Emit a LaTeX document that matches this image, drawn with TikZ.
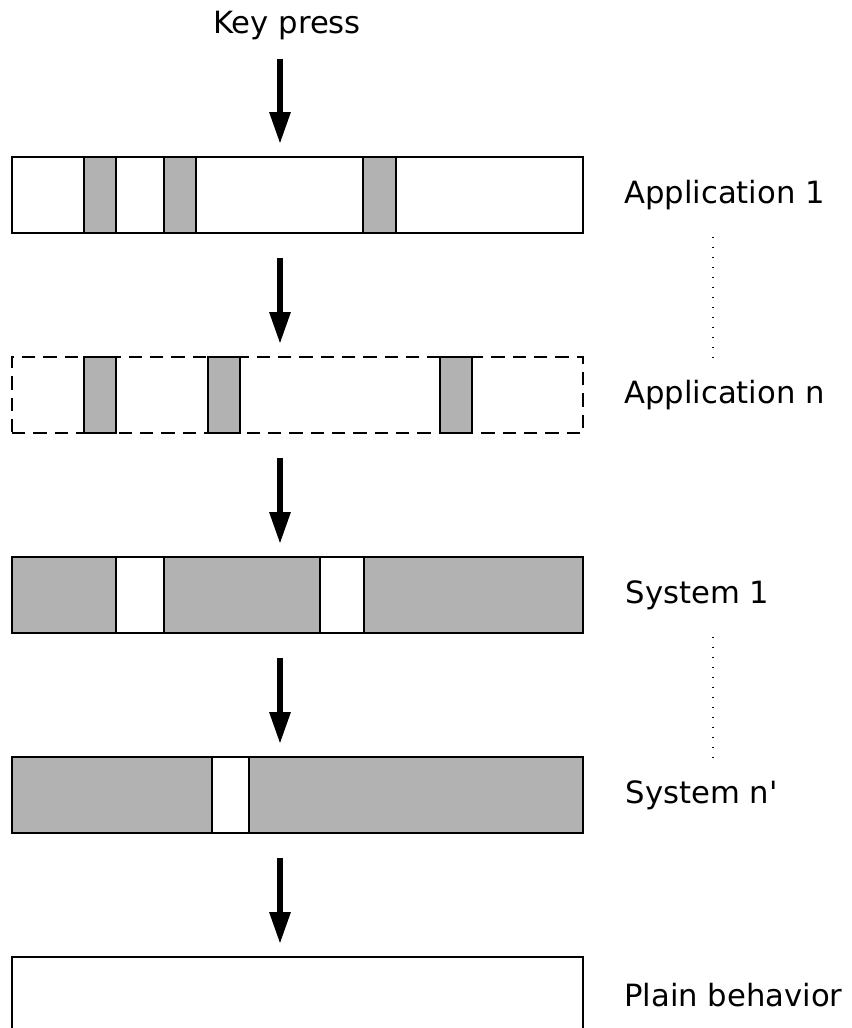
\documentclass[tikz,border=0pt]{standalone}
\usepackage{fontspec}
\setmainfont{DejaVu Sans}
\usetikzlibrary{arrows.meta,positioning}

\begin{document}
\begin{tikzpicture}[x=0.75pt, y=-0.75pt,
		bar/.style={draw, line width=1.5pt, minimum width=428.25pt, minimum height=57pt, inner sep=0pt},
		band/.style={draw, line width=1.5pt, fill=black!30},
		hole/.style={draw, line width=1.5pt, fill=white},
		tag/.style={font=\fontsize{23}{27}\selectfont, inner sep=0pt},
		flow/.style={line width=4.5pt, -{Triangle[width=15pt,length=24pt]}, shorten <=18pt, shorten >=9pt},
		etc/.style={line width=1.2pt, dash pattern=on 1.2pt off 6.3pt, shorten <=20pt, shorten >=16pt}]
		\useasboundingbox (0,0) rectangle (852,1028);
		\coordinate (axis) at (280,0);
		\coordinate (dots) at (713,0);
		\node[tag] (key) at (287,26) {Key press};

		% application layers
		\node[bar] (app1) at (297.5,195) {};
		\foreach \a/\b in {84/116, 164/196, 363/396}
			\filldraw[band] (\a,157) rectangle (\b,233);
		\node[bar, dash pattern=on 10pt off 6pt] (appn) at (297.5,395) {};
		\foreach \a/\b in {84/116, 208/240, 440/472}
			\filldraw[band] (\a,357) rectangle (\b,433);

		% system layers
		\node[bar, fill=black!30] (sys1) at (297.5,595) {};
		\foreach \a/\b in {116/164, 320/364}
			\filldraw[hole] (\a,557) rectangle (\b,633);
		\node[bar, fill=black!30] (sysn) at (297.5,795) {};
		\filldraw[hole] (212,757) rectangle (249,833);

		\node[bar] (plain) at (297.5,995) {};

		% names on the right
		\node[tag, right=30pt of app1] (lapp1) {Application 1};
		\node[tag, right=30pt of appn] (lappn) {Application n};
		\node[tag, right=31pt of sys1] (lsys1) {System 1};
		\node[tag, right=31pt of sysn] (lsysn) {System n\textquotesingle};
		\node[tag, right=30pt of plain] (lplain) {Plain behavior};
		\draw[etc] (lapp1.south -| dots) -- (lappn.north -| dots);
		\draw[etc] (lsys1.south -| dots) -- (lsysn.north -| dots);

		% the key press falls through the layers
		\draw[flow, shorten <=13.5pt] (key.south -| axis) -- (app1.north -| axis);
		\draw[flow] (app1.south -| axis) -- (appn.north -| axis);
		\draw[flow] (appn.south -| axis) -- (sys1.north -| axis);
		\draw[flow] (sys1.south -| axis) -- (sysn.north -| axis);
		\draw[flow] (sysn.south -| axis) -- (plain.north -| axis);
	\end{tikzpicture}
\end{document}
